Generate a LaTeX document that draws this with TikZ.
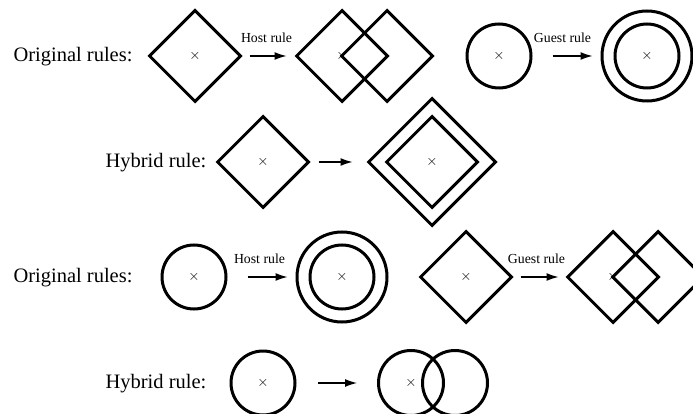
\documentclass[tikz,border=0pt]{standalone}
\usepackage{fontspec}
\setmainfont{Liberation Serif}
\usepackage{tikz}
\usetikzlibrary{shapes.geometric,arrows.meta}

\tikzset{
  rulename/.style={font=\fontsize{20.5}{24}\selectfont, inner sep=0pt},
  dia/.style={shape=diamond, draw, line width=3pt, inner sep=0pt, minimum size=#1, font=\fontsize{14}{14}\selectfont},
  dia/.default=92pt,
  circ/.style={shape=circle, draw, line width=3pt, inner sep=0pt, minimum size=#1, font=\fontsize{14}{14}\selectfont},
  circ/.default=64pt,
  rulearrow/.style 2 args={line width=1.2pt, -{Latex[length=12pt,width=8pt]}, shorten <=#1, shorten >=#2},
  rulelabel/.style={font=\fontsize{13.8}{16}\selectfont, inner sep=0pt, above=13pt}
}

\begin{document}
\begin{tikzpicture}[x=1pt, y=-1pt]
  \useasboundingbox (0,0) rectangle (693,414);

  % first group: diamond host, circle guest
  \node[rulename] (orig_a) at (73,57) {Original rules:};
  \node[dia] (host_a) at (195,56) {$\times$};
  \node[dia] (host_a1) at (342,56) {$\times$};
  \node[dia] (host_a2) at (387,56) {};
  \node[circ] (guest_a) at (499,56) {$\times$};
  \node[circ=90pt] (guest_a1) at (647,56) {};
  \node[circ] (guest_a2) at (647,56) {$\times$};
  \path (host_a) edge[rulearrow={7pt}{8pt}] node[rulelabel, xshift=-2pt] {Host rule} (host_a1)
    (guest_a) edge[rulearrow={20pt}{8pt}] node[rulelabel, xshift=-4pt] {Guest rule} (guest_a1);

  \node[rulename] (hyb_a) at (156,162.5) {Hybrid rule:};
  \node[dia] (hyb_a1) at (263,162) {$\times$};
  \node[dia=128pt] (hyb_a2) at (432,162) {};
  \node[dia] (hyb_a3) at (432,162) {$\times$};
  \draw[rulearrow={8pt}{14pt}] (hyb_a1) -- (hyb_a2);

  % second group: circle host, diamond guest
  \node[rulename] (orig_b) at (73,278) {Original rules:};
  \node[circ] (host_b) at (194,277) {$\times$};
  \node[circ=90pt] (host_b1) at (342,277) {};
  \node[circ] (host_b2) at (342,277) {$\times$};
  \node[dia] (guest_b) at (466,277) {$\times$};
  \node[dia] (guest_b1) at (613,277) {$\times$};
  \node[dia] (guest_b2) at (658,277) {};
  \path (host_b) edge[rulearrow={20pt}{8pt}] node[rulelabel, xshift=-2pt] {Host rule} (host_b1)
    (guest_b) edge[rulearrow={7pt}{7pt}] node[rulelabel, xshift=-3pt] {Guest rule} (guest_b1);

  \node[rulename] (hyb_b) at (156,383.5) {Hybrid rule:};
  \node[circ] (hyb_b1) at (263,383) {$\times$};
  \node[circ=65pt] (hyb_b2) at (411,383) {$\times$};
  \node[circ=65pt] (hyb_b3) at (455,383) {};
  \draw[rulearrow={21pt}{20pt}] (hyb_b1) -- (hyb_b2);
\end{tikzpicture}
\end{document}
